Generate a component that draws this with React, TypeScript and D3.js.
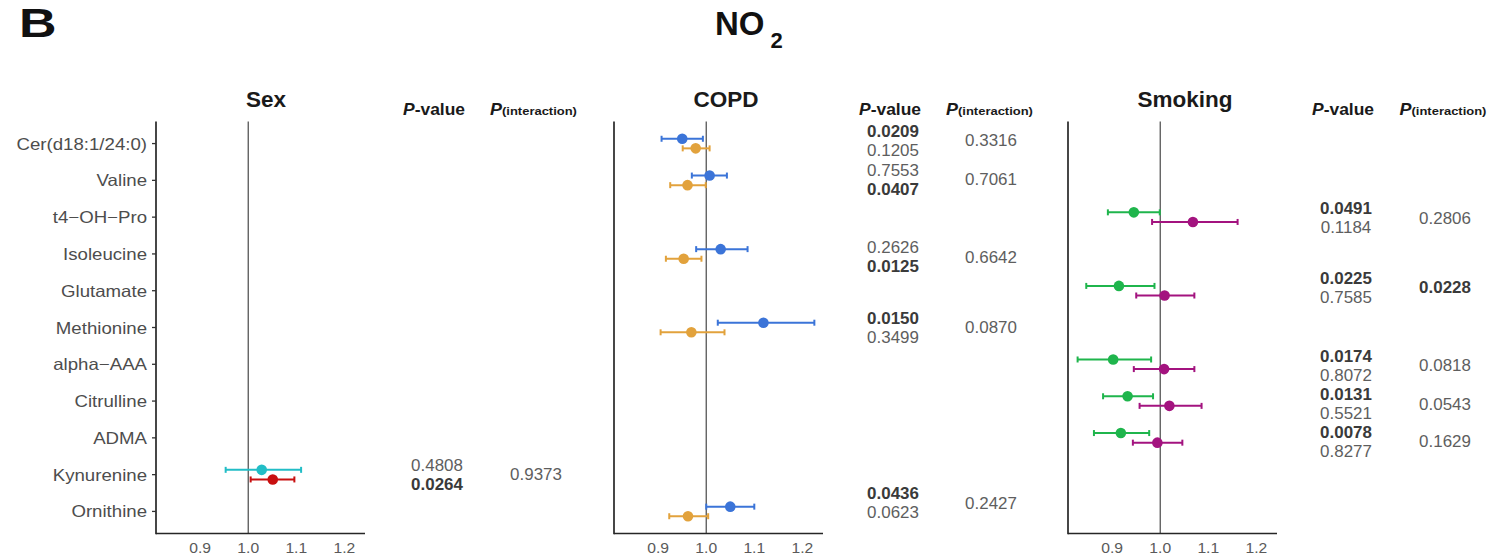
import React from "react";
import * as d3 from "d3";

// ---------------- DATA ----------------
const categories = [
  "Cer(d18:1/24:0)",
  "Valine",
  "t4\u2212OH\u2212Pro",
  "Isoleucine",
  "Glutamate",
  "Methionine",
  "alpha\u2212AAA",
  "Citrulline",
  "ADMA",
  "Kynurenine",
  "Ornithine",
];

const panelTitles = ["Sex", "COPD", "Smoking"];
const tickValues = [0.9, 1.0, 1.1, 1.2];

// Sex
const sexRows = ["Kynurenine"];
const sexEstA = [1.028];
const sexLoA = [0.953];
const sexHiA = [1.11];
const sexEstB = [1.051];
const sexLoB = [1.005];
const sexHiB = [1.096];
const sexPA = ["0.4808"];
const sexPB = ["0.0264"];
const sexPInt = ["0.9373"];

// COPD
const copdRows = ["Cer(d18:1/24:0)", "Valine", "Isoleucine", "Methionine", "Ornithine"];
const copdEstA = [0.95, 1.007, 1.03, 1.119, 1.05];
const copdLoA = [0.907, 0.97, 0.979, 1.024, 1.0];
const copdHiA = [0.993, 1.043, 1.086, 1.225, 1.1];
const copdEstB = [0.978, 0.961, 0.953, 0.969, 0.962];
const copdLoB = [0.951, 0.925, 0.916, 0.905, 0.923];
const copdHiB = [1.007, 0.999, 0.99, 1.038, 1.004];
const copdPA = ["0.0209", "0.7553", "0.2626", "0.0150", "0.0436"];
const copdPB = ["0.1205", "0.0407", "0.0125", "0.3499", "0.0623"];
const copdPInt = ["0.3316", "0.7061", "0.6642", "0.0870", "0.2427"];

// Smoking
const smokRows = ["t4\u2212OH\u2212Pro", "Glutamate", "alpha\u2212AAA", "Citrulline", "ADMA"];
const smokEstA = [0.945, 0.914, 0.902, 0.932, 0.918];
const smokLoA = [0.891, 0.846, 0.828, 0.881, 0.862];
const smokHiA = [0.999, 0.988, 0.981, 0.985, 0.977];
const smokEstB = [1.068, 1.009, 1.008, 1.019, 0.994];
const smokLoB = [0.983, 0.95, 0.945, 0.957, 0.943];
const smokHiB = [1.161, 1.071, 1.071, 1.086, 1.046];
const smokPA = ["0.0491", "0.0225", "0.0174", "0.0131", "0.0078"];
const smokPB = ["0.1184", "0.7585", "0.8072", "0.5521", "0.8277"];
const smokPInt = ["0.2806", "0.0228", "0.0818", "0.0543", "0.1629"];

// ---------------- LAYOUT / STYLE ----------------
const W = 1506;
const H = 558;
const FONT = "'Liberation Sans', Arial, Helvetica, sans-serif";
const panelX0 = [156, 614, 1068];
const panelW = 209;
const axisTop = 121.5;
const axisBottom = 533.5;
const xDomain = [0.808, 1.243];
const titleX = [266, 726, 1185];
const pColX = [437, 893, 1346];
const intColX = [536, 991, 1445];
const pHeadX = [434, 890, 1343];
const intHeadX = [533.5, 989.5, 1443];
const dodge = 4.8;
const colorsA = ["#22BDC6", "#3B74D8", "#1FB54C"];
const colorsB = ["#C80F0F", "#E2A23C", "#A3137F"];
// vertical nudges of the p-value text groups (px), as placed in the figure
const pNudge = [[0], [-3, -1, 3, 0, -8.5], [1, -3.4, 1, 3, 3.7]];

const panels = [
  { rows: sexRows, estA: sexEstA, loA: sexLoA, hiA: sexHiA, estB: sexEstB, loB: sexLoB, hiB: sexHiB, pA: sexPA, pB: sexPB, pInt: sexPInt },
  { rows: copdRows, estA: copdEstA, loA: copdLoA, hiA: copdHiA, estB: copdEstB, loB: copdLoB, hiB: copdHiB, pA: copdPA, pB: copdPB, pInt: copdPInt },
  { rows: smokRows, estA: smokEstA, loA: smokLoA, hiA: smokHiA, estB: smokEstB, loB: smokLoB, hiB: smokHiB, pA: smokPA, pB: smokPB, pInt: smokPInt },
];

const yScale = d3.scalePoint<string>().domain(categories).range([axisTop, axisBottom]).padding(0.6);

function T({ x, y, sx = 1, anchor = "start", children, ...rest }: any) {
  return (
    <text transform={`translate(${x},${y}) scale(${sx},1)`} textAnchor={anchor} {...rest}>
      {children}
    </text>
  );
}

function ErrorBar({ x, y, est, lo, hi, color }: any) {
  const cap = 3;
  return (
    <g>
      <line x1={x(lo)} x2={x(hi)} y1={y} y2={y} stroke={color} strokeWidth={2} />
      <line x1={x(lo)} x2={x(lo)} y1={y - cap} y2={y + cap} stroke={color} strokeWidth={2} />
      <line x1={x(hi)} x2={x(hi)} y1={y - cap} y2={y + cap} stroke={color} strokeWidth={2} />
      <circle cx={x(est)} cy={y} r={5.3} fill={color} />
    </g>
  );
}

function Panel({ idx }: { idx: number }) {
  const p = panels[idx];
  const x0 = panelX0[idx];
  const x = d3.scaleLinear().domain(xDomain).range([x0, x0 + panelW]);
  const fmt = d3.format(".1f");
  const isSig = (s: string) => parseFloat(s) < 0.05;
  return (
    <g>
      <T x={titleX[idx]} y={107} anchor="middle" fontSize={22.5} fontWeight="bold" fill="#1a1a1a">
        {panelTitles[idx]}
      </T>
      <line x1={x(1)} x2={x(1)} y1={axisTop} y2={axisBottom} stroke="#555" strokeWidth={1.3} />
      <line x1={x0} x2={x0} y1={axisTop} y2={axisBottom + 0.8} stroke="#262626" strokeWidth={1.7} />
      <line x1={x0} x2={x0 + panelW} y1={axisBottom} y2={axisBottom} stroke="#262626" strokeWidth={1.7} />
      {idx === 0 &&
        categories.map((c) => (
          <g key={c}>
            <line x1={x0 - 4} x2={x0} y1={yScale(c)} y2={yScale(c)} stroke="#333" strokeWidth={1.3} />
            <T x={x0 - 9} y={(yScale(c) as number) + 6} anchor="end" sx={1.13} fontSize={16.5} fill="#4d4d4d">
              {c}
            </T>
          </g>
        ))}
      {tickValues.map((t) => (
        <T key={t} x={x(t)} y={553} anchor="middle" sx={1.08} fontSize={14.5} fill="#5a5a5a">
          {fmt(t)}
        </T>
      ))}
      {p.rows.map((r, i) => {
        const yc = yScale(r) as number;
        return (
          <g key={r}>
            <ErrorBar x={x} y={yc - dodge} est={p.estA[i]} lo={p.loA[i]} hi={p.hiA[i]} color={colorsA[idx]} />
            <ErrorBar x={x} y={yc + dodge} est={p.estB[i]} lo={p.loB[i]} hi={p.hiB[i]} color={colorsB[idx]} />
          </g>
        );
      })}
      <T x={pHeadX[idx]} y={114.5} anchor="middle" sx={1.07} fontSize={16.3} fontWeight="bold" fill="#1a1a1a">
        <tspan fontStyle="italic">P</tspan>
        <tspan>-value</tspan>
      </T>
      <T x={intHeadX[idx]} y={114.5} anchor="middle" sx={1.1} fontWeight="bold" fill="#1a1a1a">
        <tspan fontStyle="italic" fontSize={16.3}>P</tspan>
        <tspan fontSize={11.8}>(interaction)</tspan>
      </T>
      {p.rows.map((r, i) => {
        const c = (yScale(r) as number) + pNudge[idx][i];
        const styleFor = (s: string) =>
          isSig(s) ? { fontWeight: "bold", fill: "#3a3a3a" } : { fontWeight: "normal", fill: "#5e5e5e" };
        return (
          <g key={"p" + r}>
            <T x={pColX[idx]} y={c - 3.7} anchor="middle" sx={1.06} fontSize={16} {...styleFor(p.pA[i])}>
              {p.pA[i]}
            </T>
            <T x={pColX[idx]} y={c + 15.3} anchor="middle" sx={1.06} fontSize={16} {...styleFor(p.pB[i])}>
              {p.pB[i]}
            </T>
            <T x={intColX[idx]} y={c + 5.8} anchor="middle" sx={1.06} fontSize={16} {...styleFor(p.pInt[i])}>
              {p.pInt[i]}
            </T>
          </g>
        );
      })}
    </g>
  );
}

export default function App() {
  return (
    <svg
      width={W}
      height={H}
      viewBox={`0 0 ${W} ${H}`}
      style={{ position: "absolute", left: 0, top: 0, background: "#fff", fontFamily: FONT }}
    >
      <rect x={0} y={0} width={W} height={H} fill="#fff" />
      <T x={19} y={37} sx={1.3} fontSize={40} fontWeight="bold" fill="#111">
        B
      </T>
      <text x={715} y={35} fontSize={33} fontWeight="bold" fill="#111">
        NO
        <tspan dx={6} dy={13} fontSize={22}>
          2
        </tspan>
      </text>
      {[0, 1, 2].map((i) => (
        <Panel key={i} idx={i} />
      ))}
    </svg>
  );
}
